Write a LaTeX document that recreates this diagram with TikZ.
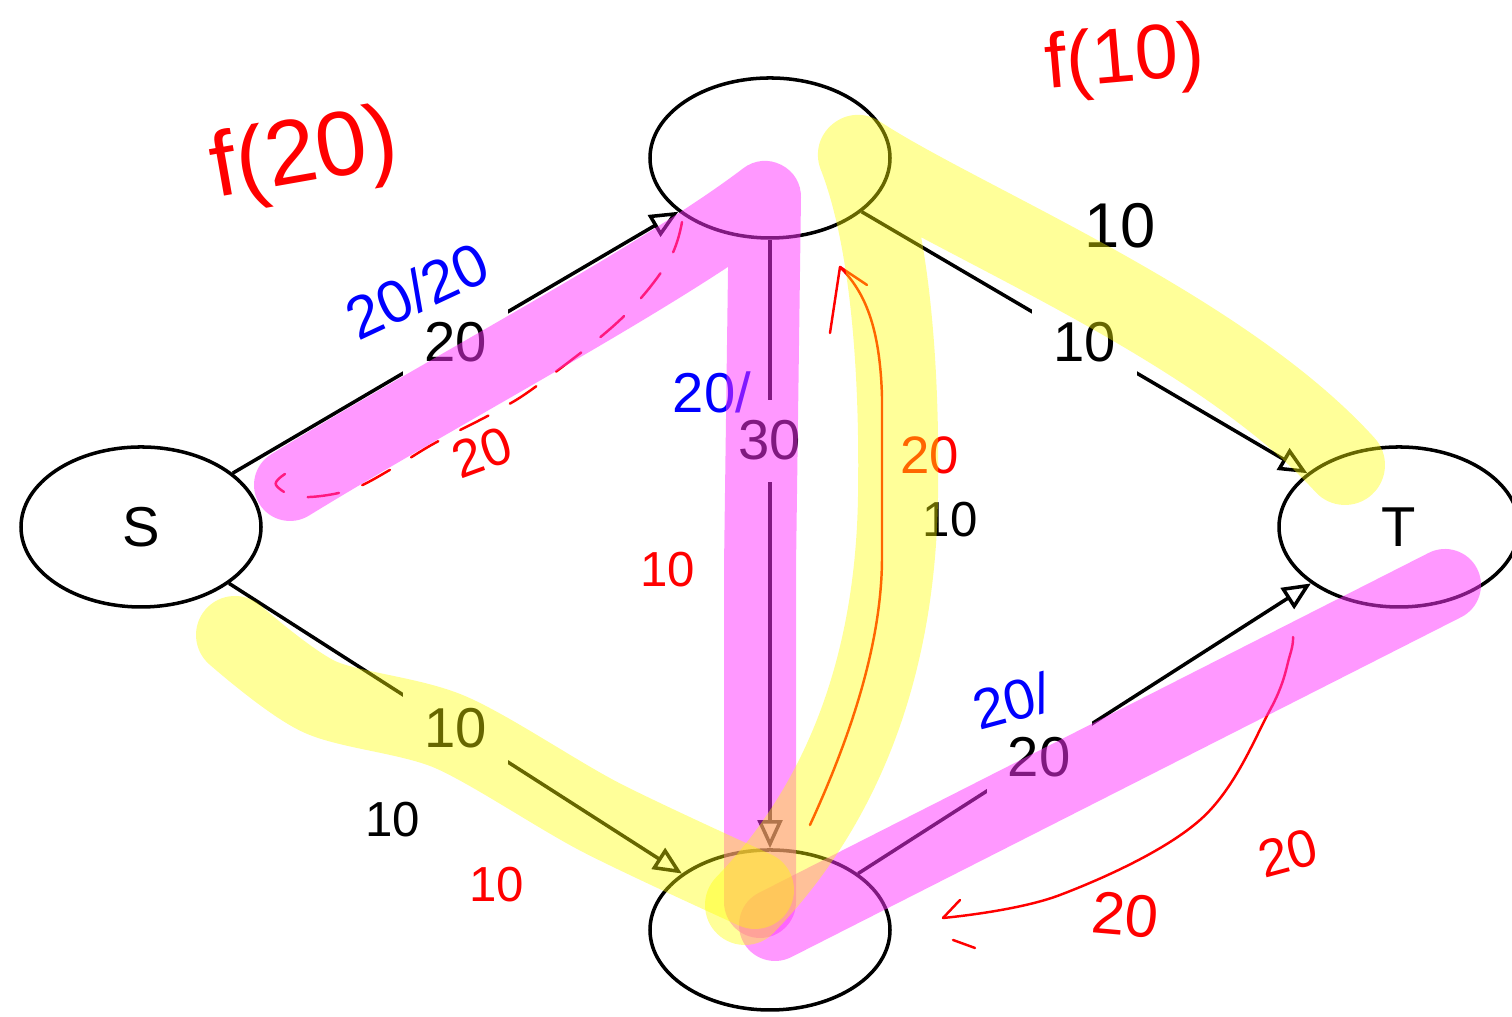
\documentclass[tikz,border=0pt]{standalone}
\usepackage{fontspec}
\setmainfont{Liberation Sans}
\usepackage{tikz}
\usetikzlibrary{shapes.geometric,arrows.meta,positioning}
\definecolor{roseVif}{RGB}{255,50,255}
\definecolor{jauneVif}{RGB}{255,255,0}
\definecolor{rougeEncre}{RGB}{255,0,0}
\definecolor{bleuEncre}{RGB}{0,0,255}
\tikzset{
  sommet/.style={draw, ellipse, line width=1pt, minimum width=2.4cm,
                 minimum height=1.6cm, font=\fontsize{16}{19}\selectfont},
  arete/.style={line width=1pt, -{Triangle[open,length=8pt,width=7pt]}},
  capa/.style={fill=white, inner sep=6pt, font=\fontsize{16}{19}\selectfont},
  encre/.style={inner sep=0pt, font=\fontsize{#1}{#1}\selectfont},
  trait/.style={rougeEncre, line width=0.7pt, line cap=round, line join=round},
  surligne/.style={line width=0.72cm, line cap=round, line join=round}
}

\begin{document}
\begin{tikzpicture}

\useasboundingbox (0,0) rectangle (15.12,10.17);

% le reseau
\node[sommet] (s) at (1.41,4.90) {S};
\node[sommet] (haut) at (7.70,8.59) {};
\node[sommet] (bas) at (7.70,0.87) {};
\node[sommet] (t) at (13.99,4.90) {T};

\draw[arete] (s) -- node[capa] {20} (haut);
\draw[arete] (s) -- node[capa] {10} (bas);
\draw[arete] (haut) -- node[capa, pos=0.33] {30} (bas);
\draw[arete] (haut) -- node[capa] {10} (t);
\draw[arete] (bas) -- node[capa, pos=0.4] {20} (t);

% annotations a la main
\node[encre=26, rougeEncre, rotate=10] (f20) at (3.05,8.59) {f(20)};
\node[encre=22, rougeEncre, rotate=5] (f10) at (11.25,9.55) {f(10)};

\node[encre=17, bleuEncre, rotate=25] (fluxSH) at (4.17,7.26) {20/20};
\node[encre=16, bleuEncre] (fluxHB) at (7.12,6.25) {20/};
\node[encre=16, bleuEncre, rotate=15] (fluxBT) at (10.12,3.16) {20/};

\node[encre=15, rougeEncre, rotate=20] (resSH) at (4.82,5.65) {20};
\node[encre=15, rougeEncre] (resHB) at (9.30,5.62) {20};
\node[encre=17, rougeEncre, rotate=-5] (resBT) at (11.25,1.02) {20};
\node[encre=15, rougeEncre, rotate=15] (resT) at (12.88,1.64) {20};
\node[encre=14, rougeEncre] (dixA) at (6.68,4.47) {10};
\node[encre=14, rougeEncre] (dixB) at (4.97,1.32) {10};
\node[encre=14] (dixC) at (3.93,1.97) {10};
\node[encre=18] (dixD) at (11.20,7.91) {10};
\node[encre=14] (dixE) at (9.50,4.97) {10};

% arcs residuels
\draw[trait, dash pattern=on 9pt off 7pt] plot[smooth, tension=0.6] coordinates {
  (6.82,7.95) (6.68,7.55) (6.20,6.97) (5.38,6.32) (4.95,6.05) (4.35,5.74)
  (3.95,5.50) (3.50,5.27) (3.00,5.20) (2.76,5.32) (2.85,5.43)};

\coordinate (pointeA) at (8.40,7.50);
\draw[trait] (8.10,1.92) .. controls (8.55,2.9) and (8.82,3.8) .. (8.82,4.6)
  -- (8.82,6.2) .. controls (8.80,6.9) and (8.65,7.25) .. (pointeA);
\draw[trait] (8.30,6.84) -- (pointeA) -- (8.67,7.32);

\coordinate (pointeB) at (9.43,0.99);
\draw[trait] plot[smooth, tension=0.6] coordinates {
  (12.93,3.80) (12.90,3.62) (12.70,3.07) (12.00,1.97) (10.60,1.22) (pointeB)};
\draw[trait] (9.60,1.17) -- (pointeB);
\draw[trait] (9.53,0.77) -- (9.75,0.69);

% surlignage
\draw[surligne, roseVif, opacity=0.5] (2.90,5.32) .. controls (4.5,6.3) and (6.6,7.4) .. (7.65,8.20)
  -- (7.60,4.5) -- (7.60,1.15);
\draw[surligne, roseVif, opacity=0.5] (7.75,0.92) -- (14.45,4.32);

\draw[surligne, jauneVif, opacity=0.4, line width=0.78cm] plot[smooth, tension=0.5] coordinates {
  (2.35,3.82) (3.20,3.20) (4.50,2.85) (6.00,2.00) (7.55,1.27)};
\draw[surligne, jauneVif, opacity=0.4, line width=0.8cm] (7.45,1.12)
  .. controls (8.3,2.0) and (8.95,3.3) .. (8.98,5.2)
  .. controls (9.0,6.5) and (8.9,7.8) .. (8.58,8.62)
  .. controls (9.6,7.95) and (12.2,6.9) .. (13.45,5.52);

\end{tikzpicture}
\end{document}
